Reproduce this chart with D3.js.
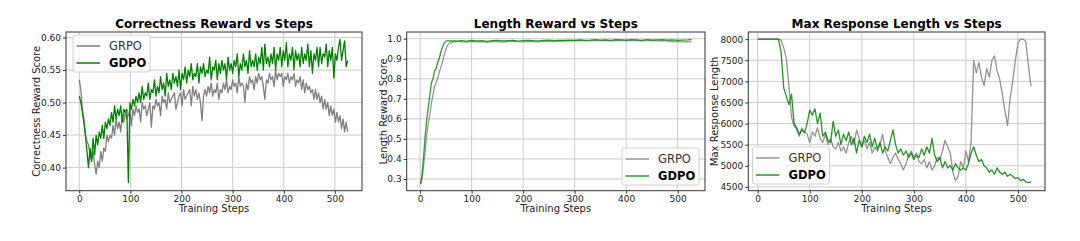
<!DOCTYPE html>
<html>
<head>
<meta charset="utf-8">
<script src="https://cdn.jsdelivr.net/npm/d3@7"></script>
<style>
  body { margin: 0; background: #fff; }
  text { font-family: "DejaVu Sans", sans-serif; }
</style>
</head>
<body>
<script>
// training steps (x)
const steps3 = d3.range(0, 528, 3)
const steps5 = d3.range(0, 526, 5)

// Correctness reward (every 3 steps)
const corrGRPO = [0.535,0.52,0.49,0.475,0.45,0.44,0.435,0.42,0.41,0.425,
  0.405,0.39,0.41,0.40,0.425,0.41,0.43,0.425,0.45,0.44,
  0.45,0.445,0.465,0.45,0.475,0.46,0.47,0.455,0.48,0.47,
  0.485,0.475,0.48,0.49,0.465,0.49,0.48,0.495,0.485,0.49,
  0.47,0.50,0.49,0.495,0.48,0.49,0.50,0.462,0.495,0.49,
  0.505,0.495,0.50,0.48,0.51,0.50,0.505,0.49,0.515,0.50,
  0.505,0.51,0.515,0.49,0.50,0.51,0.515,0.495,0.52,0.505,
  0.51,0.515,0.52,0.495,0.525,0.51,0.52,0.505,0.515,0.50,
  0.472,0.51,0.52,0.51,0.525,0.515,0.53,0.51,0.52,0.515,
  0.53,0.505,0.52,0.515,0.53,0.52,0.535,0.515,0.525,0.52,
  0.535,0.525,0.53,0.515,0.54,0.525,0.53,0.525,0.50,0.53,
  0.52,0.54,0.53,0.535,0.52,0.54,0.53,0.545,0.535,0.54,
  0.525,0.505,0.535,0.53,0.545,0.535,0.54,0.525,0.55,0.535,
  0.545,0.54,0.545,0.525,0.54,0.535,0.545,0.53,0.54,0.535,
  0.545,0.525,0.535,0.53,0.54,0.52,0.535,0.515,0.53,0.52,
  0.525,0.515,0.52,0.505,0.52,0.505,0.515,0.50,0.51,0.49,
  0.505,0.49,0.50,0.48,0.495,0.48,0.49,0.47,0.485,0.47,
  0.48,0.46,0.475,0.455,0.47,0.455]
const corrGDPO = [0.51,0.50,0.485,0.47,0.45,0.425,0.40,0.43,0.41,0.445,
  0.42,0.45,0.435,0.455,0.445,0.465,0.445,0.47,0.46,0.475,
  0.465,0.485,0.47,0.495,0.475,0.49,0.48,0.495,0.47,0.49,
  0.485,0.49,0.377,0.50,0.49,0.505,0.495,0.51,0.50,0.515,
  0.50,0.525,0.505,0.515,0.51,0.53,0.505,0.52,0.515,0.535,
  0.51,0.525,0.515,0.54,0.52,0.53,0.51,0.545,0.525,0.535,
  0.52,0.545,0.53,0.54,0.525,0.55,0.52,0.545,0.535,0.555,
  0.53,0.55,0.54,0.56,0.535,0.545,0.54,0.56,0.53,0.555,
  0.545,0.56,0.54,0.55,0.545,0.57,0.535,0.555,0.55,0.565,
  0.535,0.56,0.545,0.565,0.55,0.56,0.535,0.57,0.55,0.56,
  0.545,0.565,0.555,0.575,0.54,0.56,0.55,0.575,0.555,0.565,
  0.545,0.58,0.555,0.565,0.555,0.575,0.55,0.57,0.56,0.585,
  0.55,0.59,0.56,0.57,0.555,0.575,0.56,0.585,0.55,0.575,
  0.565,0.585,0.555,0.58,0.565,0.592,0.555,0.575,0.565,0.585,
  0.55,0.58,0.565,0.575,0.555,0.585,0.56,0.575,0.565,0.59,
  0.555,0.58,0.545,0.575,0.565,0.585,0.555,0.585,0.56,0.575,
  0.57,0.59,0.555,0.58,0.565,0.585,0.538,0.575,0.565,0.585,
  0.597,0.565,0.58,0.595,0.555,0.565]

// Length reward
const lenSteps = [1,4,7,10,13,16,19,22,25,28,31,34,37,40,43,46,49,52,55,58,61,64,67,70]
  .concat(d3.range(80, 521, 10), [527])
const lenGRPO = [0.275,0.30,0.37,0.44,0.52,0.58,0.62,0.68,0.72,0.76,0.78,0.80,0.83,0.855,0.88,0.91,0.94,0.96,0.975,0.98,0.978,0.985,0.983,0.985,
  0.985,0.983,0.987,0.984,0.986,0.982,0.987,0.985,0.983,0.986,
  0.988,0.985,0.984,0.987,0.986,0.984,0.988,0.987,0.985,0.989,
  0.988,0.99,0.989,0.991,0.99,0.989,0.992,0.99,0.991,0.989,
  0.992,0.991,0.99,0.992,0.991,0.989,0.99,0.991,0.989,0.99,
  0.988,0.986,0.985,0.984,0.985,0.983]
const lenGDPO = [0.275,0.33,0.42,0.52,0.60,0.66,0.72,0.78,0.80,0.84,0.85,0.88,0.90,0.93,0.955,0.975,0.985,0.99,0.99,0.988,0.99,0.987,0.99,0.988,
  0.99,0.988,0.991,0.989,0.99,0.987,0.99,0.992,0.989,0.99,
  0.991,0.988,0.99,0.992,0.99,0.989,0.991,0.993,0.99,0.992,
  0.991,0.993,0.992,0.994,0.992,0.993,0.995,0.993,0.994,0.992,
  0.995,0.994,0.993,0.995,0.994,0.992,0.995,0.993,0.994,0.995,
  0.993,0.994,0.992,0.993,0.994,0.996]

// Max response length (every 5 steps)
const maxGRPO = [8000,8000,8000,8000,8000,8000,8000,8000,8000,7980,
  7800,7550,6900,6150,5950,5850,5700,5900,5800,5750,
  5550,5800,5700,5900,5650,5550,5750,5500,5650,5450,
  5400,5550,5350,5450,5300,5550,5700,5500,5850,5650,
  5450,5600,5400,5550,5300,5450,5350,5500,5750,5350,
  5200,5050,5200,5300,5150,5050,4900,5050,5250,5350,
  5200,5300,5100,5050,5150,4950,5100,4900,5000,5200,
  5150,5350,5600,5450,5300,4850,4650,4750,5100,4950,
  5350,5100,5550,7500,7200,7450,7100,6900,7300,7100,
  7500,7600,7250,7050,6700,6300,5950,6600,7000,7500,
  7900,8000,8000,7950,7400,6880]
const maxGDPO = [8000,8000,8000,8000,8000,8000,8000,8000,8000,7700,
  6850,6650,6450,6700,6000,5900,5750,5850,5780,6000,
  6320,6200,6350,6000,6250,5700,5800,5600,5550,6050,
  5700,5850,5500,5750,5600,5800,5500,5650,5300,5600,
  5450,5700,5550,5750,5450,5650,5400,5550,5300,5450,
  5350,5600,5850,5500,5300,5400,5250,5350,5200,5300,
  5150,5250,5200,5400,5250,5450,5300,5650,5250,5100,
  5200,4950,5100,4950,5000,4900,5050,4950,4900,4950,
  4900,5050,5300,5450,5250,5100,5150,5000,4950,4850,
  4900,4800,4950,4850,4800,4850,4750,4800,4750,4700,
  4720,4650,4680,4620,4600,4620]

const xTicks = [0, 100, 200, 300, 400, 500]
const corrTicks = [0.40, 0.45, 0.50, 0.55, 0.60]
const lenTicks = [0.3, 0.4, 0.5, 0.6, 0.7, 0.8, 0.9, 1.0]
const maxTicks = [4500, 5000, 5500, 6000, 6500, 7000, 7500, 8000]
const methods = ["GRPO", "GDPO"]

const GRAY = "#808080"
const GREEN = "#008000"

const svg = d3.select("body").append("svg")
  .attr("width", 1080)
  .attr("height", 241)

function drawPanel(p) {
  const x = d3.scaleLinear().domain(p.xDomain).range([p.left, p.right])
  const y = d3.scaleLinear().domain(p.yDomain).range([p.bottom, p.top])
  const g = svg.append("g")

  // grid
  g.append("g").selectAll("line").data(xTicks).join("line")
    .attr("x1", d => x(d)).attr("x2", d => x(d))
    .attr("y1", p.top).attr("y2", p.bottom)
    .attr("stroke", "#cccccc").attr("stroke-width", 1)
  g.append("g").selectAll("line").data(p.yTicks).join("line")
    .attr("x1", p.left).attr("x2", p.right)
    .attr("y1", d => y(d)).attr("y2", d => y(d))
    .attr("stroke", "#cccccc").attr("stroke-width", 1)

  // axes
  const xAxis = d3.axisBottom(x).tickValues(xTicks).tickSize(3).tickPadding(2)
  const yAxis = d3.axisLeft(y).tickValues(p.yTicks).tickSize(3).tickPadding(2).tickFormat(p.yFmt)
  g.append("g").attr("transform", `translate(0,${p.bottom})`).call(xAxis)
    .call(a => a.select(".domain").remove())
    .call(a => a.selectAll("text").attr("font-size", "9px").attr("font-family", "DejaVu Sans").attr("fill", "#222"))
    .call(a => a.selectAll("line").attr("stroke", "#333"))
  g.append("g").attr("transform", `translate(${p.left},0)`).call(yAxis)
    .call(a => a.select(".domain").remove())
    .call(a => a.selectAll("text").attr("font-size", "9px").attr("font-family", "DejaVu Sans").attr("fill", "#222"))
    .call(a => a.selectAll("line").attr("stroke", "#333"))

  // lines
  const line = d3.line().defined(d => d[1] != null).x(d => x(d[0])).y(d => y(d[1]))
  p.series.forEach(s => {
    g.append("path")
      .datum(s.x.map((v, i) => [v, s.y[i]]))
      .attr("d", line)
      .attr("fill", "none")
      .attr("stroke", s.color)
      .attr("stroke-opacity", s.opacity)
      .attr("stroke-width", 1.3)
      .attr("stroke-linejoin", "round")
  })

  // frame
  g.append("rect")
    .attr("x", p.left).attr("y", p.top)
    .attr("width", p.right - p.left).attr("height", p.bottom - p.top)
    .attr("fill", "none").attr("stroke", "#333").attr("stroke-width", 1)

  // title, labels
  const cx = (p.left + p.right) / 2
  g.append("text").attr("x", cx).attr("y", 28)
    .attr("text-anchor", "middle").attr("font-size", "12px").attr("font-weight", "bold")
    .text(p.title)
  g.append("text").attr("x", cx).attr("y", 211.5)
    .attr("text-anchor", "middle").attr("font-size", "10px").attr("fill", "#222")
    .text("Training Steps")
  g.append("text")
    .attr("transform", `translate(${p.ylabelX},${(p.top + p.bottom) / 2}) rotate(-90)`)
    .attr("text-anchor", "middle").attr("font-size", "10px").attr("fill", "#222")
    .text(p.ylabel)

  // legend
  const L = p.legend
  const lg = g.append("g").attr("transform", `translate(${L.x},${L.y})`)
  lg.append("rect").attr("width", 77).attr("height", 37).attr("rx", 2)
    .attr("fill", "#fff").attr("fill-opacity", 0.8)
    .attr("stroke", "#d0d0d0").attr("stroke-width", 1)
  methods.forEach((m, i) => {
    const s = p.series[i]
    const ry = 11 + i * 17
    lg.append("line").attr("x1", 3.5).attr("x2", 27).attr("y1", ry).attr("y2", ry)
      .attr("stroke", s.color).attr("stroke-opacity", s.opacity).attr("stroke-width", 1.5)
    lg.append("text").attr("x", 36).attr("y", ry + 4)
      .attr("font-size", "11.5px")
      .attr("font-weight", i === 1 ? "bold" : "normal")
      .attr("fill", i === 1 ? "#000" : "#333")
      .text(m)
  })
}

drawPanel({
  left: 66, right: 362, top: 32, bottom: 190.7,
  xDomain: [-26, 553], yDomain: [0.3645, 0.6085],
  yTicks: corrTicks, yFmt: d3.format(".2f"),
  title: "Correctness Reward vs Steps", ylabel: "Correctness Reward Score", ylabelX: 40,
  series: [
    { x: steps3, y: corrGRPO, color: GRAY, opacity: 1 },
    { x: steps3, y: corrGDPO, color: GREEN, opacity: 1 }
  ],
  legend: { x: 73, y: 35 }
})

drawPanel({
  left: 406.7, right: 705, top: 32, bottom: 190.7,
  xDomain: [-26, 553], yDomain: [0.2415, 1.0335],
  yTicks: lenTicks, yFmt: d3.format(".1f"),
  title: "Length Reward vs Steps", ylabel: "Length Reward Score", ylabelX: 386.5,
  series: [
    { x: lenSteps, y: lenGRPO, color: GRAY, opacity: 0.8 },
    { x: lenSteps, y: lenGDPO, color: GREEN, opacity: 0.8 }
  ],
  legend: { x: 622, y: 148 }
})

drawPanel({
  left: 748.3, right: 1045, top: 32, bottom: 190.7,
  xDomain: [-18, 552], yDomain: [4410, 8170],
  yTicks: maxTicks, yFmt: d3.format("d"),
  title: "Max Response Length vs Steps", ylabel: "Max Response Length", ylabelX: 718,
  series: [
    { x: steps5, y: maxGRPO, color: GRAY, opacity: 0.85 },
    { x: steps5, y: maxGDPO, color: GREEN, opacity: 0.85 }
  ],
  legend: { x: 752.5, y: 147 }
})
</script>
</body>
</html>
